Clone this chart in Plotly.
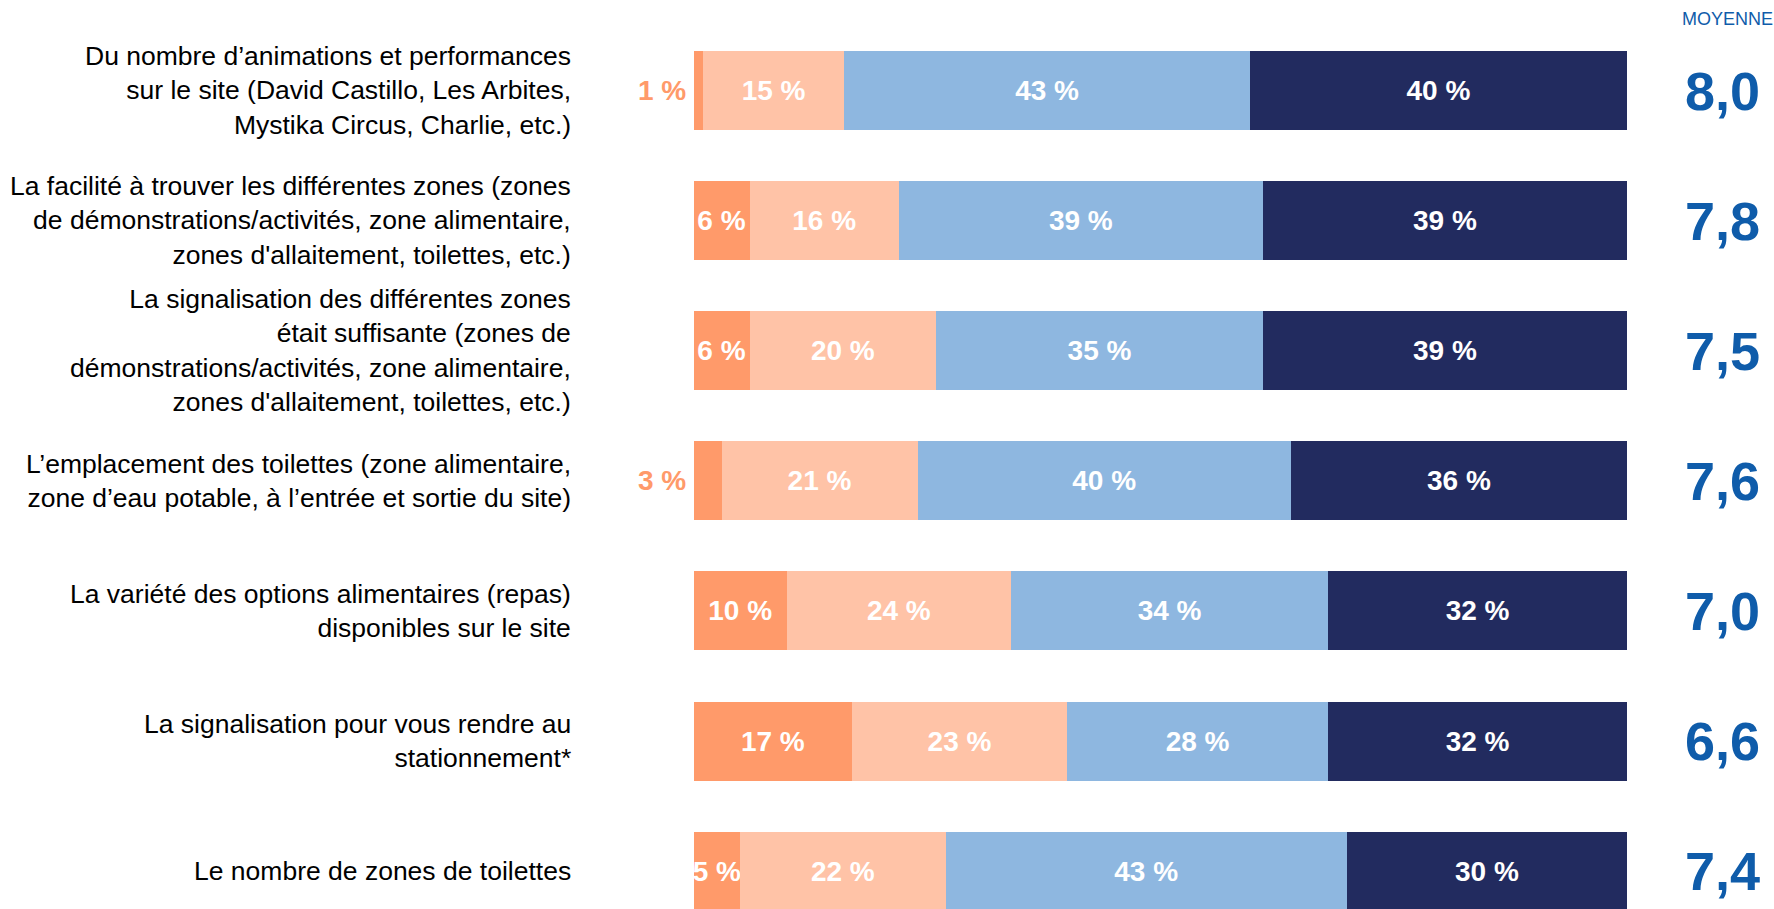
import plotly.graph_objects as go

# Libellés des énoncés
categories = [
    "Du nombre d’animations et performances<br>sur le site (David Castillo, Les Arbites,<br>Mystika Circus, Charlie, etc.)",
    "La facilité à trouver les différentes zones (zones<br>de démonstrations/activités, zone alimentaire,<br>zones d'allaitement, toilettes, etc.)",
    "La signalisation des différentes zones<br>était suffisante (zones de<br>démonstrations/activités, zone alimentaire,<br>zones d'allaitement, toilettes, etc.)",
    "L’emplacement des toilettes (zone alimentaire,<br>zone d’eau potable, à l’entrée et sortie du site)",
    "La variété des options alimentaires (repas)<br>disponibles sur le site",
    "La signalisation pour vous rendre au<br>stationnement*",
    "Le nombre de zones de toilettes",
]

# Répartition des réponses (%)
tres_insatisfait = [1, 6, 6, 3, 10, 17, 5]
plutot_insatisfait = [15, 16, 20, 21, 24, 23, 22]
plutot_satisfait = [43, 39, 35, 40, 34, 28, 43]
tres_satisfait = [40, 39, 39, 36, 32, 32, 30]

# Moyenne sur 10
moyennes = [8.0, 7.8, 7.5, 7.6, 7.0, 6.6, 7.4]

SERIES = [
    ("Très insatisfait", tres_insatisfait, "#FF9A6A"),
    ("Plutôt insatisfait", plutot_insatisfait, "#FFC3A7"),
    ("Plutôt satisfait", plutot_satisfait, "#8EB7E0"),
    ("Très satisfait", tres_satisfait, "#222B5F"),
]

FONT = "Arial, Liberation Sans, sans-serif"
W, H = 1774, 909
X0, X1 = 693.5, 1627.0      # zone des barres (px)
ROW_PX = 130.1              # écart entre les lignes (px)
ROW0_Y = 90.5               # centre de la première ligne (px)
BAR_PX = 79                 # épaisseur des barres (px)

fig = go.Figure()

for i, (name, vals, color) in enumerate(SERIES):
    # petites valeurs du premier segment : étiquette à l'extérieur (annotation)
    texts = []
    for v in vals:
        if i == 0 and v < 4:
            texts.append("")
        else:
            texts.append(f"{v} %")
    fig.add_trace(go.Bar(
        y=categories,
        x=vals,
        name=name,
        orientation="h",
        marker=dict(color=color, line=dict(width=0)),
        width=BAR_PX / ROW_PX,
        text=texts,
        texttemplate="%{text}",
        textposition="inside",
        insidetextanchor="middle",
        constraintext="none",
        textangle=0,
        textfont=dict(family=FONT, size=28, color="white", weight="bold"),
        hoverinfo="skip",
    ))

annotations = []
for cat, v in zip(categories, tres_insatisfait):
    if v < 4:
        annotations.append(dict(
            x=0, y=cat, xref="x", yref="y",
            text=f"<b>{v} %</b>", showarrow=False,
            xanchor="right", xshift=-6,
            font=dict(family=FONT, size=28, color="#FF9A6A"),
        ))

# libellés des énoncés, alignés à droite
for cat in categories:
    annotations.append(dict(
        x=572.5 / W, y=cat, xref="paper", yref="y",
        text=cat, showarrow=False,
        xanchor="right", yanchor="middle", align="right",
        font=dict(family=FONT, size=26.5, color="black"),
    ))

# moyennes
for cat, m in zip(categories, moyennes):
    annotations.append(dict(
        x=1722 / W, y=cat, xref="paper", yref="y",
        text="<b>" + f"{m:.1f}".replace(".", ",") + "</b>", showarrow=False,
        xanchor="center", yanchor="middle",
        font=dict(family=FONT, size=54, color="#0F5CAA"),
    ))

annotations.append(dict(
    x=1727 / W, y=1 - 19 / H, xref="paper", yref="paper",
    text="MOYENNE", showarrow=False,
    xanchor="center", yanchor="middle",
    font=dict(family=FONT, size=18, color="#0F5CAA"),
))

y_top = -ROW0_Y / ROW_PX
y_bottom = y_top + H / ROW_PX

fig.update_layout(
    width=W, height=H,
    barmode="stack",
    barnorm="percent",
    showlegend=False,
    plot_bgcolor="white",
    paper_bgcolor="white",
    margin=dict(l=0, r=0, t=0, b=0),
    xaxis=dict(domain=[X0 / W, X1 / W], range=[0, 100], visible=False,
               fixedrange=True),
    yaxis=dict(range=[y_bottom, y_top], visible=False, fixedrange=True),
    annotations=annotations,
)

fig.write_html("out.html", config={"displayModeBar": False},
               post_script="document.body.style.margin='0';")
